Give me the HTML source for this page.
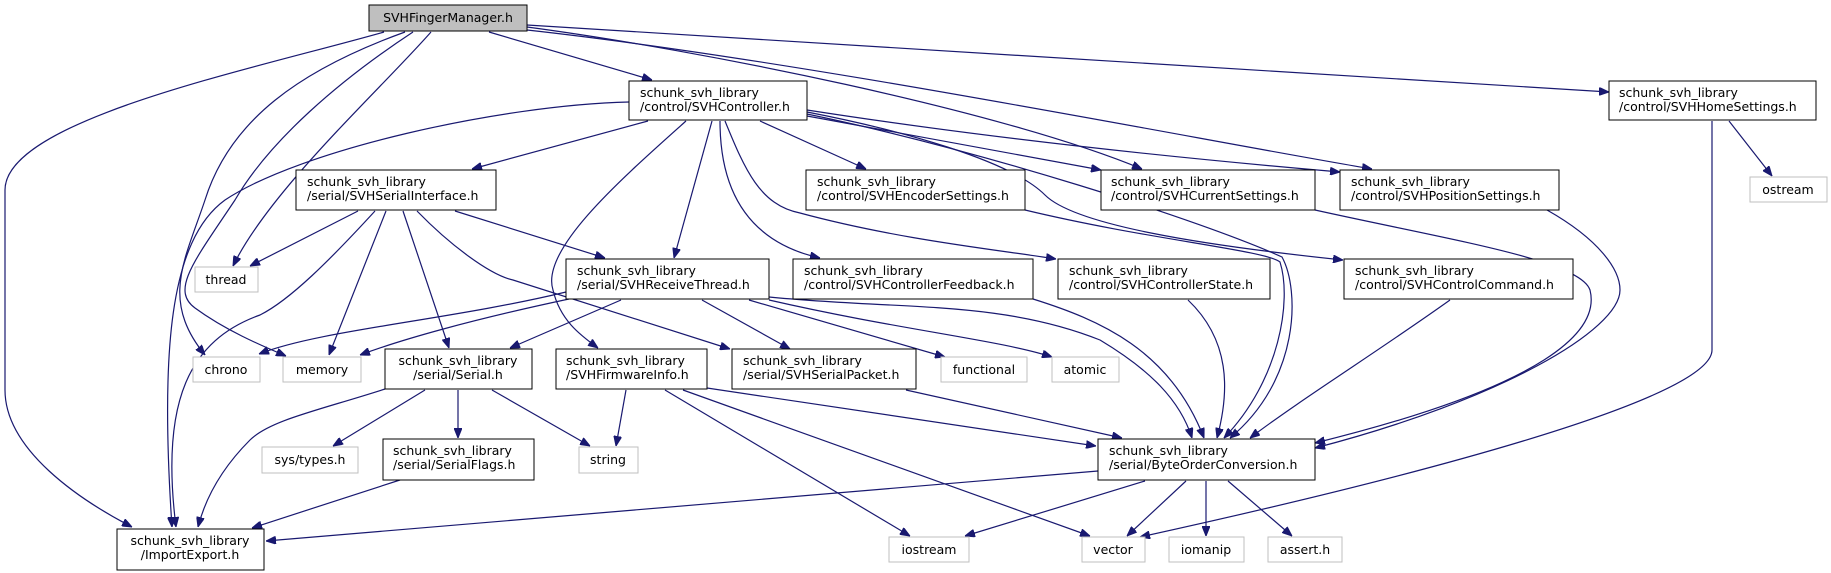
<!DOCTYPE html>
<html><head><meta charset="utf-8"><style>
html,body{margin:0;padding:0;background:#fff;}
svg{display:block;}
text{font-family:"DejaVu Sans","Liberation Sans",sans-serif;font-size:12.5px;fill:#000;}
.e{fill:none;stroke:#191970;stroke-width:1.2;marker-end:url(#ah);}
.n{fill:#fff;stroke:#000;stroke-width:1;}
.g{fill:#fff;stroke:#bfbfbf;stroke-width:1;}
</style></head><body>
<svg width="1831" height="573" viewBox="0 0 1831 573" xmlns="http://www.w3.org/2000/svg">
<defs><marker id="ah" viewBox="0 0 10 8" refX="10" refY="4" markerWidth="10" markerHeight="8" markerUnits="userSpaceOnUse" orient="auto"><path d="M0,0 L10,4 L0,8 z" fill="#191970" stroke="#191970"/></marker></defs>

<!-- edges -->
<g>
<path class="e" d="M384,32 C250,70 5,120 5,190 L5,390 C5,450 80,500 132,527"/>
<path class="e" d="M405,32 C300,70 230,120 205,200 C185,260 160,300 205,355"/>
<path class="e" d="M413,32 C340,80 270,140 235,200 C195,260 170,290 195,308 C225,330 260,345 286,356"/>
<path class="e" d="M431,32 C380,90 270,190 233,266"/>
<path class="e" d="M489,32 L652,80"/>
<path class="e" d="M527,27 C700,50 1000,110 1142,169"/>
<path class="e" d="M527,30 C800,60 1200,140 1372,169"/>
<path class="e" d="M527,25 L1609,92"/>

<path class="e" d="M629,102 C500,105 300,150 225,200 C170,240 160,350 172,527"/>
<path class="e" d="M648,121 L472,169"/>
<path class="e" d="M686,121 C620,180 540,250 553,290 C560,320 580,335 598,348"/>
<path class="e" d="M712,121 L674,258"/>
<path class="e" d="M720,121 C720,180 740,240 820,258"/>
<path class="e" d="M725,121 C745,170 760,205 800,213 C900,240 1000,250 1056,259"/>
<path class="e" d="M760,121 L866,169"/>
<path class="e" d="M807,116 L1101,170"/>
<path class="e" d="M807,110 C1000,140 1200,160 1340,172"/>
<path class="e" d="M807,112 C900,130 1010,160 1045,195 C1075,225 1200,245 1343,260"/>
<path class="e" d="M807,114 C980,150 1200,220 1282,257 C1300,290 1300,380 1230,438"/>

<path class="e" d="M358,211 L250,266"/>
<path class="e" d="M375,211 C330,260 290,300 260,315 C190,340 160,400 176,527"/>
<path class="e" d="M386,211 L329,355"/>
<path class="e" d="M403,211 L449,348"/>
<path class="e" d="M417,211 C450,245 490,275 513,280 L730,349"/>
<path class="e" d="M455,211 L605,258"/>

<path class="e" d="M566,292 C450,320 320,330 259,354"/>
<path class="e" d="M569,299 C470,320 400,340 360,355"/>
<path class="e" d="M621,300 L510,348"/>
<path class="e" d="M702,300 L790,349"/>
<path class="e" d="M749,300 L945,357"/>
<path class="e" d="M769,300 C900,330 1000,340 1052,357"/>
<path class="e" d="M769,297 C900,310 1000,300 1100,340 C1150,370 1180,400 1192,438"/>

<path class="e" d="M1033,299 C1100,320 1170,350 1204,438"/>
<path class="e" d="M1188,300 C1230,340 1230,390 1217,438"/>
<path class="e" d="M1450,300 C1380,350 1300,400 1250,438"/>
<path class="e" d="M1025,210 C1150,240 1265,250 1280,262 C1292,300 1280,380 1224,438"/>
<path class="e" d="M1315,210 C1450,240 1580,260 1590,290 C1600,330 1550,385 1315,443"/>
<path class="e" d="M1547,210 C1600,240 1620,270 1620,290 C1620,330 1500,400 1315,448"/>
<path class="e" d="M1729,121 L1772,176"/>
<path class="e" d="M1712,121 L1712,350 C1712,400 1400,480 1140,537"/>

<path class="e" d="M626,390 L616,446"/>
<path class="e" d="M707,388 L1096,446"/>
<path class="e" d="M665,390 L910,536"/>
<path class="e" d="M683,390 L1090,536"/>
<path class="e" d="M906,390 L1122,438"/>

<path class="e" d="M385,389 C320,410 270,420 250,440 C220,470 205,500 198,527"/>
<path class="e" d="M425,390 L333,446"/>
<path class="e" d="M458,390 L458,438"/>
<path class="e" d="M492,390 L590,446"/>
<path class="e" d="M400,480 L252,528"/>

<path class="e" d="M1098,471 L266,541"/>
<path class="e" d="M1145,481 L965,536"/>
<path class="e" d="M1186,481 L1127,536"/>
<path class="e" d="M1206,481 L1206,536"/>
<path class="e" d="M1228,481 L1292,536"/>
</g>

<!-- nodes -->
<rect x="369" y="5" width="158" height="26" fill="#bfbfbf" stroke="#000"/>
<text x="448" y="22" text-anchor="middle">SVHFingerManager.h</text>

<rect class="n" x="629" y="81" width="178" height="39"/>
<text x="640" y="97">schunk_svh_library</text><text x="640" y="111">/control/SVHController.h</text>

<rect class="n" x="1609" y="81" width="207" height="39"/>
<text x="1619" y="97">schunk_svh_library</text><text x="1619" y="111">/control/SVHHomeSettings.h</text>

<rect class="n" x="296" y="170" width="200" height="40"/>
<text x="307" y="186">schunk_svh_library</text><text x="307" y="200">/serial/SVHSerialInterface.h</text>

<rect class="n" x="806" y="170" width="219" height="40"/>
<text x="817" y="186">schunk_svh_library</text><text x="817" y="200">/control/SVHEncoderSettings.h</text>

<rect class="n" x="1101" y="170" width="214" height="40"/>
<text x="1111" y="186">schunk_svh_library</text><text x="1111" y="200">/control/SVHCurrentSettings.h</text>

<rect class="n" x="1340" y="170" width="219" height="40"/>
<text x="1351" y="186">schunk_svh_library</text><text x="1351" y="200">/control/SVHPositionSettings.h</text>

<rect class="g" x="1750" y="177" width="77" height="25"/>
<text x="1788" y="194" text-anchor="middle">ostream</text>

<rect class="g" x="195" y="267" width="63" height="25"/>
<text x="226" y="284" text-anchor="middle">thread</text>

<rect class="n" x="566" y="259" width="203" height="40"/>
<text x="577" y="275">schunk_svh_library</text><text x="577" y="289">/serial/SVHReceiveThread.h</text>

<rect class="n" x="793" y="259" width="240" height="40"/>
<text x="804" y="275">schunk_svh_library</text><text x="804" y="289">/control/SVHControllerFeedback.h</text>

<rect class="n" x="1058" y="259" width="212" height="40"/>
<text x="1069" y="275">schunk_svh_library</text><text x="1069" y="289">/control/SVHControllerState.h</text>

<rect class="n" x="1344" y="259" width="229" height="40"/>
<text x="1355" y="275">schunk_svh_library</text><text x="1355" y="289">/control/SVHControlCommand.h</text>

<rect class="g" x="193" y="357" width="67" height="25"/>
<text x="226" y="374" text-anchor="middle">chrono</text>
<rect class="g" x="283" y="357" width="78" height="25"/>
<text x="322" y="374" text-anchor="middle">memory</text>

<rect class="n" x="385" y="349" width="147" height="40"/>
<text x="458" y="365" text-anchor="middle">schunk_svh_library</text><text x="458" y="379" text-anchor="middle">/serial/Serial.h</text>

<rect class="n" x="556" y="349" width="151" height="40"/>
<text x="566" y="365">schunk_svh_library</text><text x="566" y="379">/SVHFirmwareInfo.h</text>

<rect class="n" x="732" y="349" width="184" height="40"/>
<text x="743" y="365">schunk_svh_library</text><text x="743" y="379">/serial/SVHSerialPacket.h</text>

<rect class="g" x="941" y="357" width="86" height="25"/>
<text x="984" y="374" text-anchor="middle">functional</text>
<rect class="g" x="1052" y="357" width="67" height="25"/>
<text x="1085" y="374" text-anchor="middle">atomic</text>

<rect class="g" x="262" y="447" width="96" height="26"/>
<text x="310" y="464" text-anchor="middle">sys/types.h</text>

<rect class="n" x="383" y="439" width="151" height="41"/>
<text x="393" y="455">schunk_svh_library</text><text x="393" y="469">/serial/SerialFlags.h</text>

<rect class="g" x="579" y="447" width="59" height="26"/>
<text x="608" y="464" text-anchor="middle">string</text>

<rect class="n" x="1098" y="439" width="217" height="41"/>
<text x="1109" y="455">schunk_svh_library</text><text x="1109" y="469">/serial/ByteOrderConversion.h</text>

<rect class="n" x="117" y="529" width="147" height="41"/>
<text x="190" y="545" text-anchor="middle">schunk_svh_library</text><text x="190" y="559" text-anchor="middle">/ImportExport.h</text>

<rect class="g" x="889" y="537" width="80" height="25"/>
<text x="929" y="554" text-anchor="middle">iostream</text>
<rect class="g" x="1082" y="537" width="63" height="25"/>
<text x="1113" y="554" text-anchor="middle">vector</text>
<rect class="g" x="1169" y="537" width="75" height="25"/>
<text x="1206" y="554" text-anchor="middle">iomanip</text>
<rect class="g" x="1268" y="537" width="74" height="25"/>
<text x="1305" y="554" text-anchor="middle">assert.h</text>
</svg>
</body></html>
